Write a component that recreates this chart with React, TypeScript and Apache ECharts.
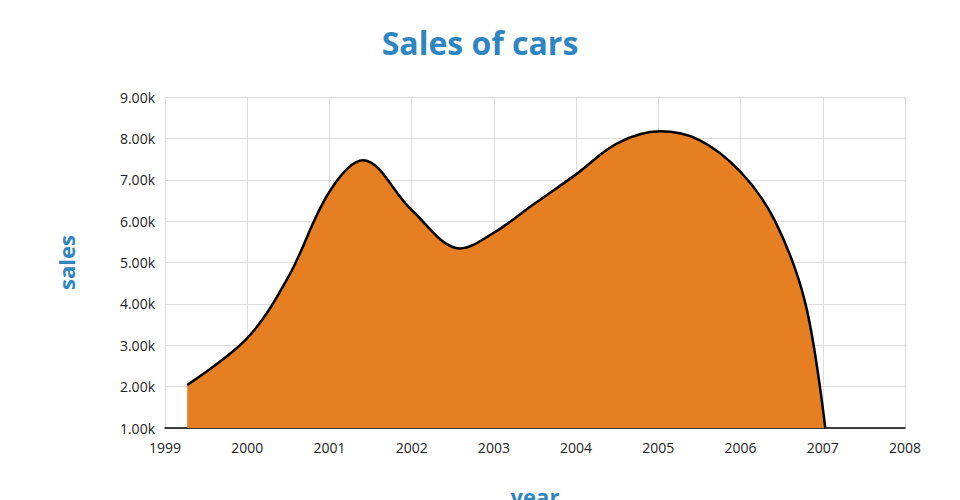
import React, { useEffect, useRef } from "react";
import * as echarts from "echarts";

const title = "Sales of cars";
const xName = "year";
const yName = "sales";

// [year, sales]
const years = [
  1999.27, 2000.0, 2000.5, 2001.0, 2001.41, 2002.0, 2002.59, 2003.0, 2003.5,
  2004.0, 2004.5, 2005.02, 2005.5, 2006.0, 2006.42, 2006.79, 2007.03,
];
const sales = [
  2040, 3170, 4650, 6710, 7470, 6270, 5340, 5720, 6430,
  7130, 7880, 8170, 7960, 7190, 6000, 4000, 1000,
];

const xMin = 1999;
const xMax = 2008;
const yMin = 1000;
const yMax = 9000;

export default function App() {
  const ref = useRef<HTMLDivElement>(null);
  useEffect(() => {
    document.body.style.margin = "0";
    const chart = echarts.init(ref.current!, undefined, { renderer: "svg" });
    const font = "'Open Sans', sans-serif";
    chart.setOption({
      animation: false,
      textStyle: { fontFamily: font },
      title: {
        text: title,
        left: "center",
        top: 21,
        textStyle: { fontFamily: font, fontSize: 32, fontWeight: "bold", color: "#2E86C1" },
      },
      grid: { left: 165, right: 55, top: 97, bottom: 72, outerBoundsMode: "none", containLabel: false },
      xAxis: {
        type: "value",
        min: xMin,
        max: xMax,
        interval: 1,
        name: xName,
        nameLocation: "middle",
        nameGap: 57,
        nameTextStyle: { fontFamily: font, fontSize: 22, fontWeight: "bold", color: "#2E86C1" },
        axisLine: { show: true, lineStyle: { color: "#000", width: 1.5 } },
        axisTick: { show: false },
        axisLabel: { fontFamily: font, fontSize: 14, color: "#222", margin: 12, formatter: (v: number) => String(v) },
        splitLine: { show: true, lineStyle: { color: "#dddddd", width: 1 } },
      },
      yAxis: {
        type: "value",
        min: yMin,
        max: yMax,
        interval: 1000,
        name: yName,
        nameLocation: "middle",
        nameGap: 88,
        nameRotate: 90,
        nameTextStyle: { fontFamily: font, fontSize: 22, fontWeight: "bold", color: "#2E86C1" },
        axisLine: { show: false },
        axisTick: { show: false },
        axisLabel: {
          fontFamily: font,
          fontSize: 14,
          color: "#222",
          margin: 10,
          formatter: (v: number) => (v / 1000).toFixed(2) + "k",
        },
        splitLine: { show: true, lineStyle: { color: "#dddddd", width: 1 } },
      },
      series: [
        {
          type: "line",
          data: years.map((y, i) => [y, sales[i]]),
          smooth: 0.35,
          showSymbol: false,
          lineStyle: { color: "#000", width: 2.5 },
          areaStyle: { color: "#E67F22", opacity: 1, origin: "start" },
          z: 2,
        },
      ],
    });
    return () => chart.dispose();
  }, []);
  return <div ref={ref} style={{ width: 960, height: 500 }} />;
}
